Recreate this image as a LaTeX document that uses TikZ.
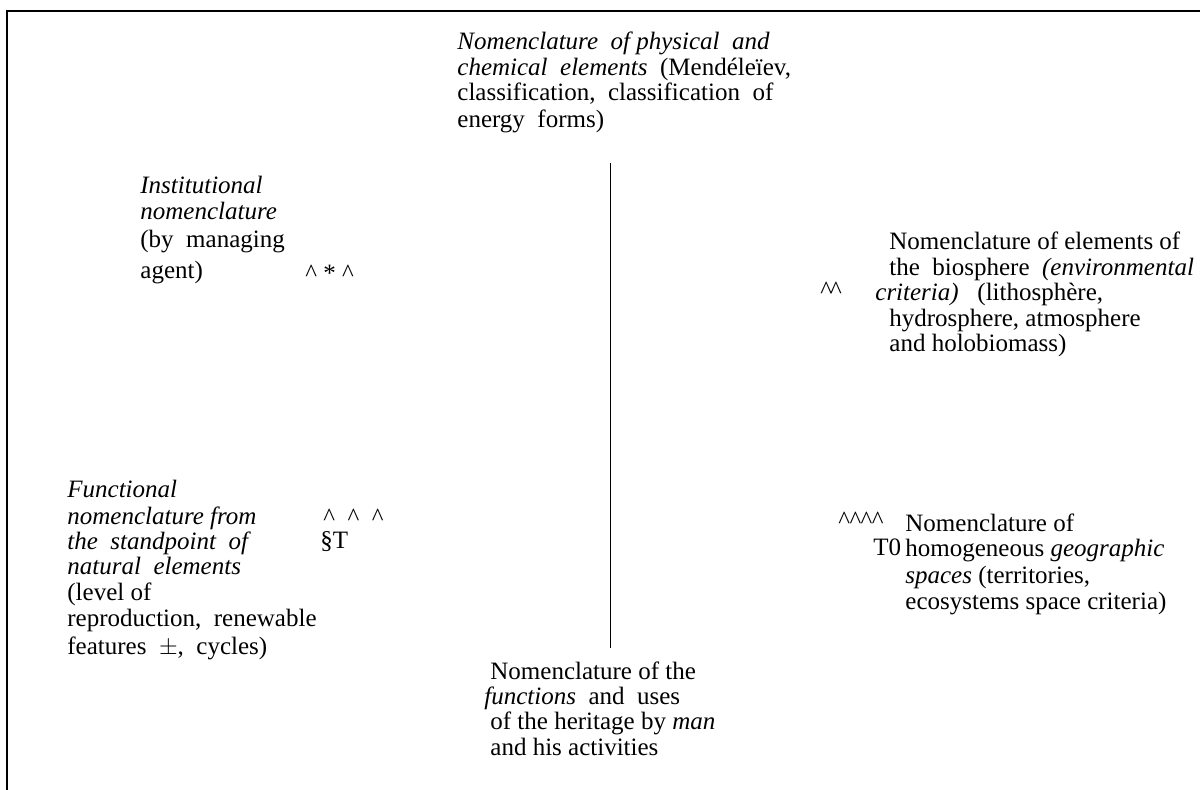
\documentclass[tikz,border=0pt]{standalone}
\usepackage{fontspec}
\setmainfont{Liberation Serif}
\usepackage{tikz}
\AtBeginDocument{\fontsize{12.5}{12.7}\selectfont}

\tikzset{
  lbl/.style={anchor=north west, inner sep=0pt, align=left, font=\fontsize{12.5}{12.7}\selectfont},
  sym/.style={anchor=north west, inner sep=0pt, font=\fontsize{12.5}{12.7}\selectfont}
}

\begin{document}
\begin{tikzpicture}[x=0.5pt, y=-0.5pt]
  \useasboundingbox (0,0) rectangle (1200,790);
  \draw[line width=0.75pt] (1200,11) -- (7,11) -- (7,790);
  \node[lbl] (physical) at (457,32) {\textit{Nomenclature\ \ of physical\ \ and}\\ \textit{chemical\ \ elements}\ \ (Mendéleïev,\\ classification,\ \ classification\ \ of\\[0.5pt] energy\ \ forms)};
  \node[lbl] (institutional) at (140,176) {\textit{Institutional}\\ \textit{nomenclature}\\[1.5pt] (by\ \ managing\\[3pt] agent)};
  \node[sym] (instmark) at (305,265) {\textasciicircum\ *\ \textasciicircum};
  \node[lbl] (biosphere) at (889,232) {Nomenclature of elements of\\ the\ \ biosphere\ \ \textit{(environmental}\\ \hspace*{-7pt}\textit{criteria)}\ \ \ (lithosphère,\\ hydrosphere,\ atmosphere\\ and holobiomass)};
  \node[sym] (biomark) at (820,282) {\textasciicircum\hspace{-1pt}\textasciicircum};
  \node[lbl] (functional) at (67,480) {\textit{Functional}\\[0.5pt] \textit{nomenclature from}\\ \textit{the\ \ standpoint\ \ of}\\ \textit{natural\ \ elements}\\[0pt] (level of\\[0.5pt] reproduction,\ \ renewable\\[1pt] features\ \ $\pm$,\ \ cycles)};
  \node[sym] (funcmark) at (323,509) {\textasciicircum\ \ \textasciicircum\ \ \textasciicircum};
  \node[sym] (functee) at (320,531) {\S T};
  \node[lbl] (geographic) at (905,513) {Nomenclature of\\ homogeneous \textit{geographic}\\[1pt] \textit{spaces} (territories,\\ ecosystems space criteria)};
  \node[sym] (geomark) at (838,512) {\textasciicircum\hspace{-0.3pt}\textasciicircum\hspace{-0.3pt}\textasciicircum\hspace{-0.3pt}\textasciicircum};
  \node[sym] (geotee) at (873,538) {T0};
  \node[lbl] (uses) at (490,661) {Nomenclature of the\\ \hspace*{-3pt}\textit{functions}\ \ and\ \ uses\\ of the heritage by \textit{man}\\ and his activities};
  \coordinate (axtop) at (610,163);
  \coordinate (axbot) at (610,648);
  \draw[line width=0.5pt] (axtop) -- (axbot);
\end{tikzpicture}
\end{document}
